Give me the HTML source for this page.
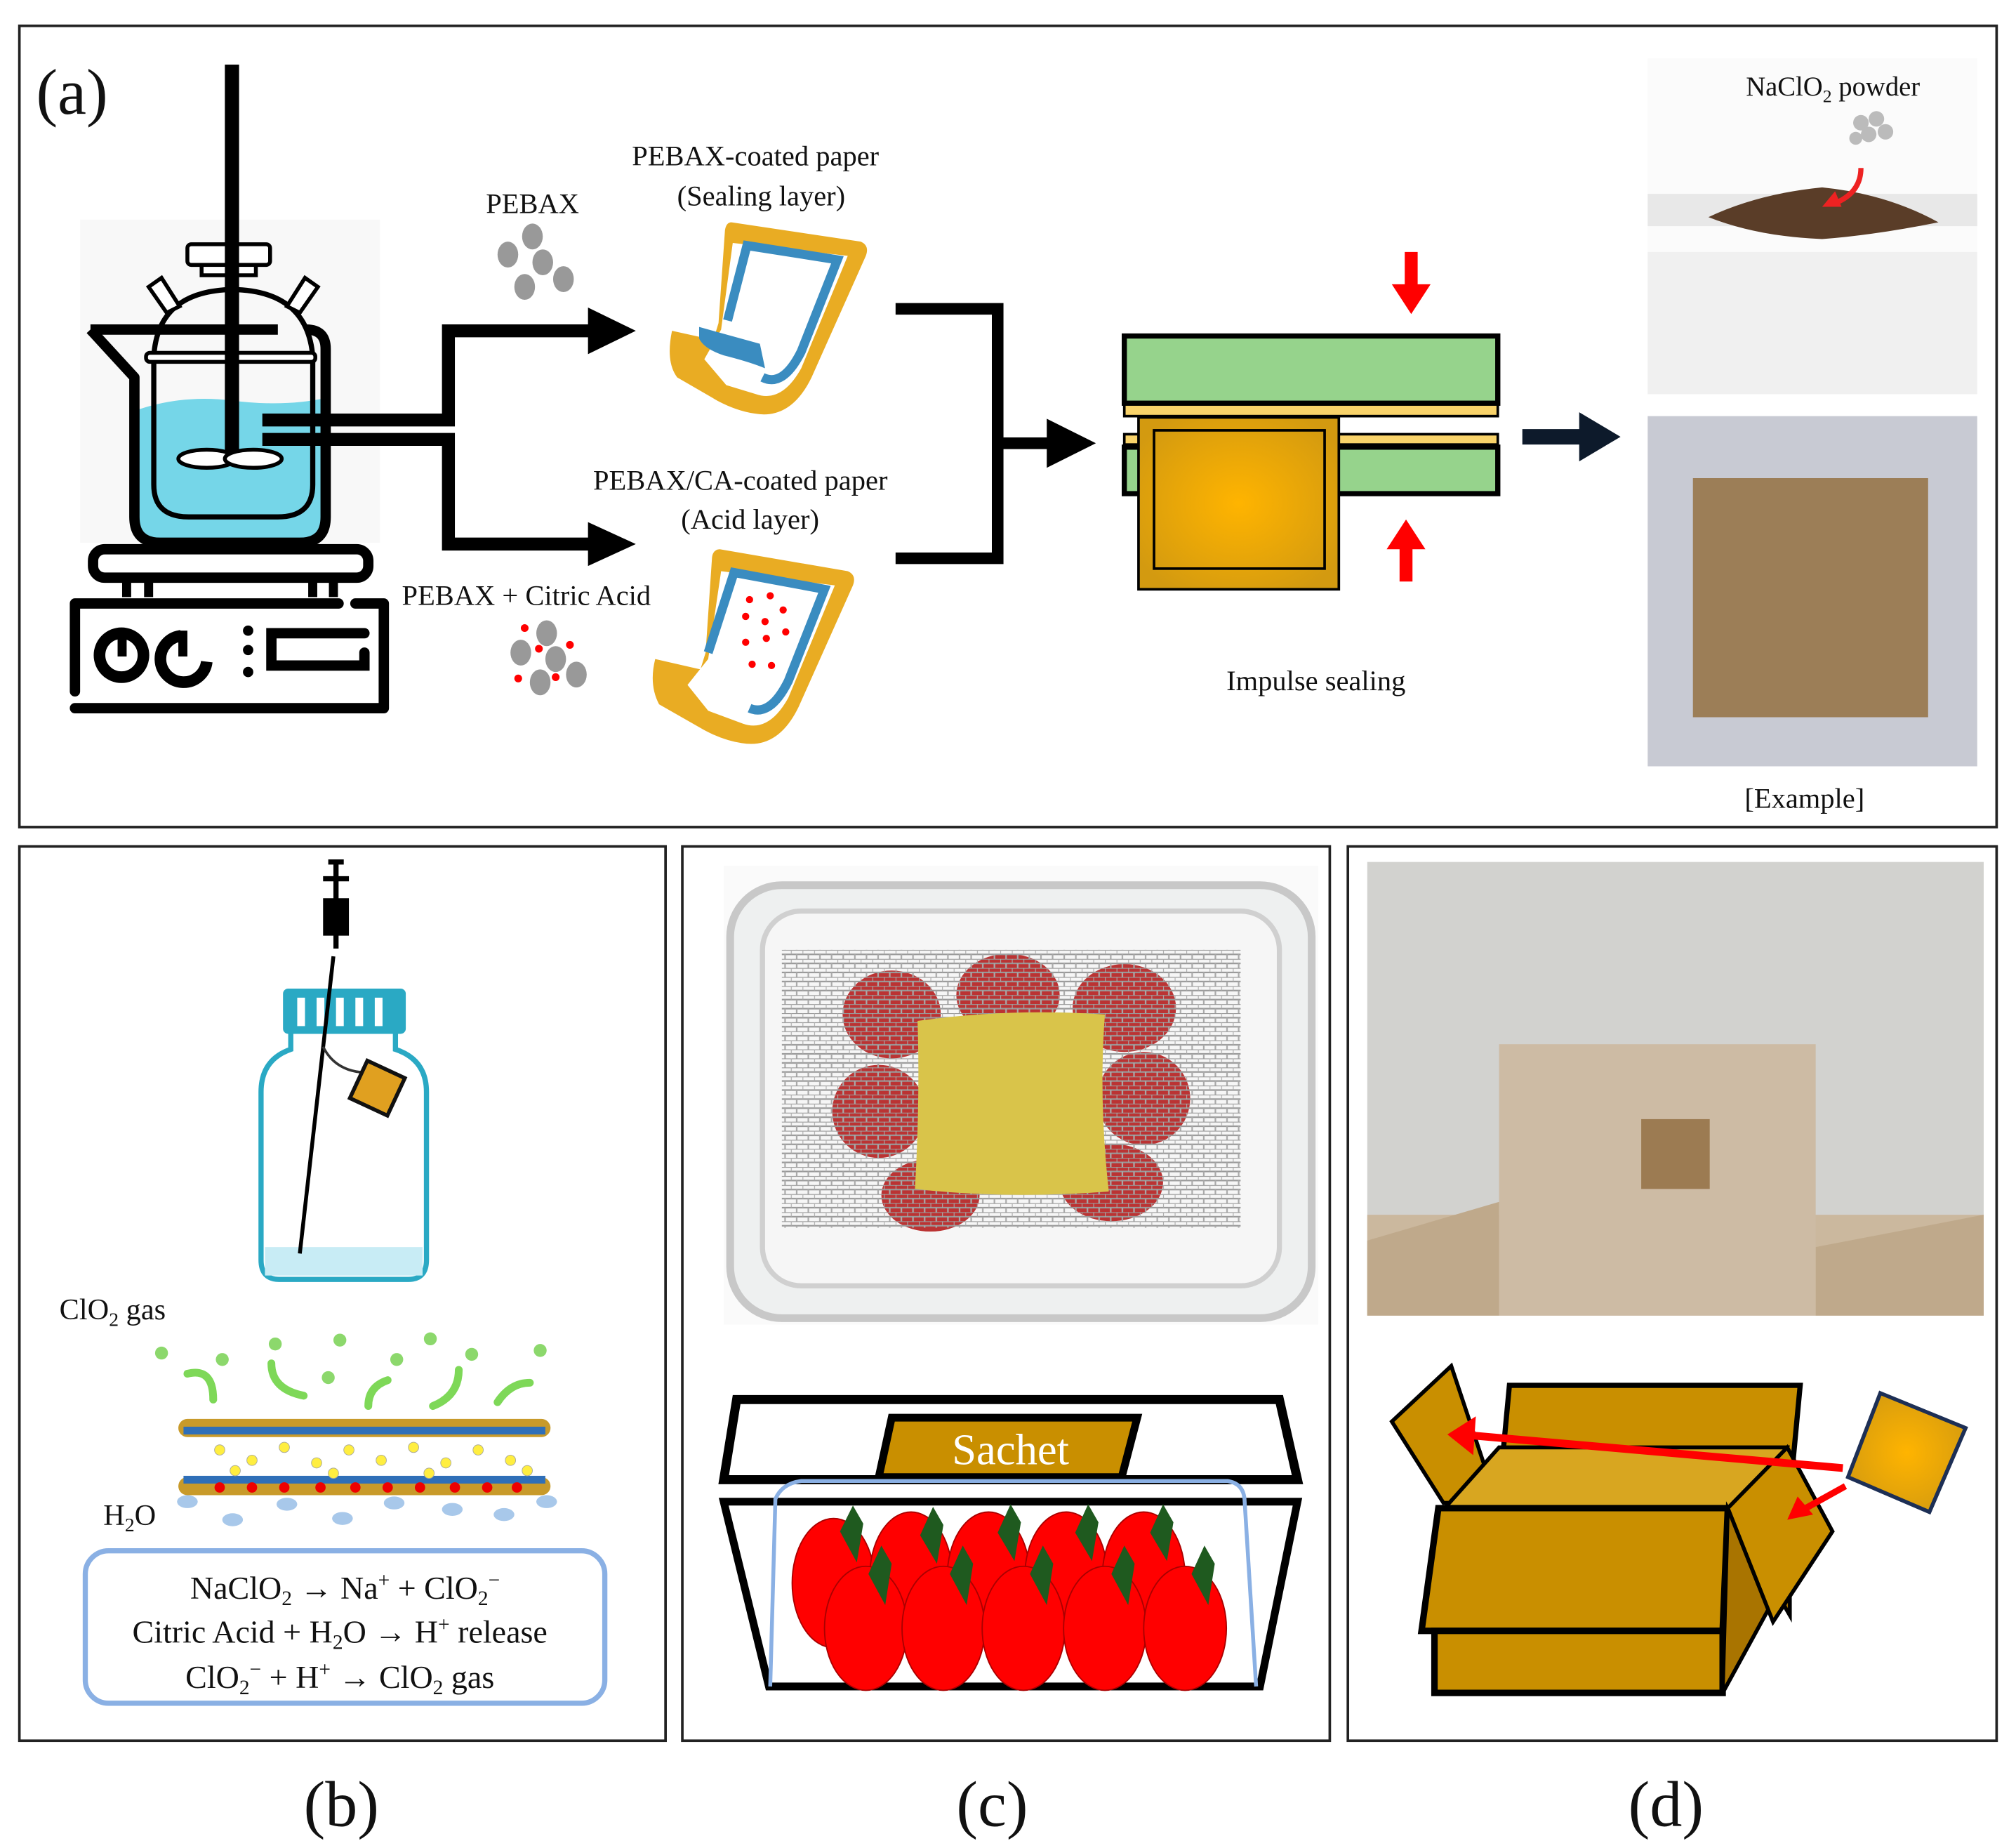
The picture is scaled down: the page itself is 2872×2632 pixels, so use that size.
<!DOCTYPE html>
<html><head><meta charset="utf-8"><style>
html,body{margin:0;padding:0;background:#fff}
svg{display:block}
text{font-family:"Liberation Serif",serif;fill:#111}
</style></head><body>
<svg width="2872" height="2632" viewBox="0 0 1560 1430" preserveAspectRatio="none" xmlns="http://www.w3.org/2000/svg">
<defs>
<radialGradient id="sg" cx="50%" cy="50%" r="60%"><stop offset="0" stop-color="#ffb400"/><stop offset="1" stop-color="#d39a10"/></radialGradient>
<pattern id="mesh" width="9" height="7" patternUnits="userSpaceOnUse"><rect width="9" height="7" fill="none"/><path d="M0 0H9M0 3.5H9" stroke="#999" stroke-width="1.2"/><path d="M0 0V3.5M4.5 3.5V7" stroke="#aaa" stroke-width="1.2"/></pattern>
</defs>
<rect width="1560" height="1430" fill="#fff"/>
<rect x="15" y="20" width="1530" height="620" fill="none" stroke="#222" stroke-width="2"/>
<rect x="15" y="655" width="500" height="692" fill="none" stroke="#222" stroke-width="2"/>
<rect x="528" y="655" width="501" height="692" fill="none" stroke="#222" stroke-width="2"/>
<rect x="1043" y="655" width="502" height="692" fill="none" stroke="#222" stroke-width="2"/>
<text x="28" y="88" font-size="50">(a)</text>
<text x="235" y="1413" font-size="50">(b)</text>
<text x="740" y="1413" font-size="50">(c)</text>
<text x="1260" y="1413" font-size="50">(d)</text>

<!-- beaker / stirrer -->
<rect x="62" y="170" width="232" height="250" fill="#f5f5f5" opacity="0.7"/>
<path d="M104 318 Q140 305 180 310 Q220 315 252 308 L252 400 Q252 420 232 420 L124 420 Q104 420 104 400Z" fill="#75d6e8"/>
<path d="M70 255 L215 255 M237 255 Q252 255 252 270 L252 400 Q252 420 232 420 L124 420 Q104 420 104 400 L104 292 L70 255" fill="none" stroke="#000" stroke-width="8" stroke-linejoin="round"/>
<path d="M119 276 Q122 225 180 224 Q238 225 242 276 L242 375 Q242 400 215 400 L146 400 Q119 400 119 375Z" fill="none" stroke="#000" stroke-width="4"/>
<rect x="113" y="273" width="131" height="7" rx="3" fill="#fff" stroke="#000" stroke-width="3"/>
<rect x="145" y="189" width="64" height="16" rx="3" fill="#fff" stroke="#000" stroke-width="3"/>
<rect x="156" y="205" width="42" height="8" fill="#fff" stroke="#000" stroke-width="3"/>
<path d="M115 222l10-7 14 22-10 5z M246 222l-10-7-14 22 10 5z" fill="#fff" stroke="#000" stroke-width="3"/>
<rect x="174" y="50" width="11" height="303" fill="#000"/>
<ellipse cx="160" cy="355" rx="22" ry="7" fill="#fff" stroke="#000" stroke-width="3"/>
<ellipse cx="196" cy="355" rx="22" ry="7" fill="#fff" stroke="#000" stroke-width="3"/>
<rect x="72" y="425" width="213" height="22" rx="9" fill="#fff" stroke="#000" stroke-width="8"/>
<path d="M98 450v12 M115 450v12 M242 450v12 M258 450v12" stroke="#000" stroke-width="7"/>
<path d="M58 535 L58 467 L262 467 M275 467 L297 467 L297 548 L58 548" fill="none" stroke="#000" stroke-width="8" stroke-linecap="round" stroke-linejoin="round"/>
<circle cx="94" cy="507" r="17" fill="none" stroke="#000" stroke-width="9"/><rect x="91" y="488" width="7" height="20" fill="#000"/>
<path d="M140 492 A18 18 0 1 0 160 512" fill="none" stroke="#000" stroke-width="9"/><rect x="138" y="488" width="7" height="20" fill="#000"/>
<circle cx="192" cy="488" r="4" fill="#000"/><circle cx="192" cy="503" r="4" fill="#000"/><circle cx="192" cy="520" r="4" fill="#000"/>
<path d="M282 490 L210 490 L210 515 L282 515 L282 505" fill="none" stroke="#000" stroke-width="8" stroke-linecap="round"/>
<!-- connector arrows -->
<path d="M203 325 H347 V256 H460 M203 340 H347 V421 H460" fill="none" stroke="#000" stroke-width="10"/>
<path d="M455 238 L492 256 L455 274Z M455 404 L492 421 L455 438Z" fill="#000"/>
<text x="376" y="165" font-size="22">PEBAX</text>
<g fill="#999"><ellipse cx="412" cy="183" rx="8" ry="10"/><ellipse cx="393" cy="197" rx="8" ry="10"/><ellipse cx="420" cy="203" rx="8" ry="10"/><ellipse cx="406" cy="222" rx="8" ry="10"/><ellipse cx="436" cy="216" rx="8" ry="10"/></g>
<text x="311" y="468" font-size="22">PEBAX + Citric Acid</text>
<g fill="#999"><ellipse cx="423" cy="490" rx="8" ry="10"/><ellipse cx="403" cy="505" rx="8" ry="10"/><ellipse cx="430" cy="510" rx="8" ry="10"/><ellipse cx="418" cy="528" rx="8" ry="10"/><ellipse cx="446" cy="522" rx="8" ry="10"/></g>
<g fill="#f00"><circle cx="406" cy="486" r="3"/><circle cx="417" cy="502" r="3"/><circle cx="441" cy="499" r="3"/><circle cx="401" cy="525" r="3"/><circle cx="430" cy="524" r="3"/></g>
<!-- papers -->
<text x="489" y="128" font-size="22">PEBAX-coated paper</text>
<text x="524" y="159" font-size="22">(Sealing  layer)</text>
<g id="paper">
<path d="M566 172 L666 187 Q673 190 670 198 L628 292 Q612 325 584 320 Q570 318 555 310 L524 292 Q515 280 520 256 L552 263 L556 250 L561 178 Q562 172 566 172Z" fill="#e9ac23"/>
<path d="M567 188 L656 198 L620 285 Q605 312 585 305 L562 298 L545 278 L558 255Z" fill="#fff"/>
<path d="M563 248 L578 190 L648 201 L620 272 Q606 300 590 292" fill="none" stroke="#3a8cc0" stroke-width="7"/>
<path d="M541 253 L588 266 L592 285 Q580 280 560 275 Q545 270 541 262Z" fill="#3a8cc0"/>
</g>
<text x="459" y="379" font-size="22">PEBAX/CA-coated paper</text>
<text x="527" y="409" font-size="22">(Acid layer)</text>
<path d="M557 425 L656 442 Q663 445 660 453 L618 547 Q602 580 574 575 Q560 573 545 565 L510 545 Q502 530 507 510 L542 518 L546 505 L551 431 Q552 425 557 425Z" fill="#e9ac23"/>
<path d="M558 442 L646 453 L610 540 Q595 567 575 560 L548 550 L532 530 L548 510Z" fill="#fff"/>
<path d="M548 505 L568 443 L638 456 L610 527 Q596 555 580 548" fill="none" stroke="#3a8cc0" stroke-width="7"/>
<g fill="#f00"><circle cx="580" cy="464" r="2.8"/><circle cx="596" cy="461" r="2.8"/><circle cx="606" cy="472" r="2.8"/><circle cx="577" cy="477" r="2.8"/><circle cx="592" cy="481" r="2.8"/><circle cx="608" cy="489" r="2.8"/><circle cx="577" cy="497" r="2.8"/><circle cx="593" cy="494" r="2.8"/><circle cx="582" cy="514" r="2.8"/><circle cx="597" cy="515" r="2.8"/></g>
<!-- bracket -->
<path d="M693 239 H772 V432 H693 M772 343 H815" fill="none" stroke="#000" stroke-width="9"/>
<path d="M810 324 L848 343 L810 362Z" fill="#000"/>
<!-- sealer -->
<rect x="870" y="260" width="289" height="52" fill="#96d38c" stroke="#000" stroke-width="4"/>
<rect x="870" y="313" width="289" height="9" fill="#f9d36a" stroke="#000" stroke-width="2"/>
<rect x="870" y="336" width="289" height="8" fill="#f9d36a" stroke="#000" stroke-width="2"/>
<rect x="870" y="346" width="289" height="36" fill="#96d38c" stroke="#000" stroke-width="4"/>
<rect x="881" y="323" width="155" height="133" fill="url(#sg)" stroke="#000" stroke-width="2"/>
<rect x="893" y="333" width="132" height="107" fill="none" stroke="#000" stroke-width="2"/>
<path d="M1087 195 v25 h-10 l15 23 l15 -23 h-10 v-25z" fill="#f00"/>
<path d="M1083 450 v-25 h-10 l15 -23 l15 23 h-10 v25z" fill="#f00"/>
<text x="949" y="534" font-size="22">Impulse sealing</text>
<path d="M1178 332 H1222 V319 L1254 338 L1222 357 V344 H1178Z" fill="#0d1a2b"/>
<!-- photos a -->
<rect x="1275" y="45" width="255" height="260" fill="#fbfbfb"/>
<rect x="1275" y="150" width="255" height="25" fill="#e8e8e8"/>
<rect x="1275" y="195" width="255" height="110" fill="#f0f0f0"/>
<path d="M1322 168 Q1360 150 1410 145 Q1460 150 1500 172 Q1450 182 1410 185 Q1360 183 1322 168Z" fill="#5a3d28"/>
<text x="1351" y="74" font-size="21">NaClO<tspan font-size="14" dy="5">2</tspan><tspan dy="-5"> powder</tspan></text>
<g fill="#bbb"><circle cx="1440" cy="95" r="6"/><circle cx="1452" cy="92" r="6"/><circle cx="1446" cy="104" r="6"/><circle cx="1459" cy="102" r="6"/><circle cx="1436" cy="107" r="5"/></g>
<path d="M1440 130 Q1440 150 1418 158" fill="none" stroke="#e22" stroke-width="4"/><path d="M1410 160 l10 -12 l5 12z" fill="#e22"/>
<rect x="1275" y="322" width="255" height="271" fill="#c8cad3"/>
<rect x="1310" y="370" width="182" height="185" fill="#9c7e57"/>
<text x="1350" y="625" font-size="22">[Example]</text>

<!-- panel b -->
<path d="M254 667 h12 M260 667 v30 M250 680 h20 M252 697 h16 v25 h-16z M260 722 v12" stroke="#000" stroke-width="4" fill="#000"/>
<rect x="219" y="765" width="95" height="35" rx="4" fill="#2aa9c4"/>
<g fill="#fff"><rect x="230" y="772" width="6" height="22"/><rect x="245" y="772" width="6" height="22"/><rect x="260" y="772" width="6" height="22"/><rect x="275" y="772" width="6" height="22"/><rect x="290" y="772" width="6" height="22"/></g>
<path d="M225 800 L225 812 Q202 820 202 845 L202 975 Q202 990 216 990 L316 990 Q330 990 330 975 L330 845 Q330 820 306 812 L306 800" fill="none" stroke="#2aa9c4" stroke-width="4"/>
<rect x="205" y="965" width="122" height="22" fill="#c8ecf5"/>
<path d="M258 740 L232 970" stroke="#000" stroke-width="3"/>
<path d="M250 810 Q260 830 285 830" fill="none" stroke="#333" stroke-width="2"/>
<rect x="276" y="826" width="32" height="32" fill="#e0a020" stroke="#111" stroke-width="3" transform="rotate(25 292 842)"/>
<text x="46" y="1021" font-size="23">ClO<tspan font-size="15" dy="5">2</tspan><tspan dy="-5"> gas</tspan></text>
<g fill="#8cd86c"><circle cx="125" cy="1047" r="5"/><circle cx="172" cy="1052" r="5"/><circle cx="213" cy="1040" r="5"/><circle cx="263" cy="1037" r="5"/><circle cx="333" cy="1036" r="5"/><circle cx="418" cy="1045" r="5"/><circle cx="254" cy="1066" r="5"/><circle cx="307" cy="1052" r="5"/><circle cx="365" cy="1048" r="5"/></g>
<g fill="none" stroke="#7ed858" stroke-width="6" stroke-linecap="round"><path d="M145 1063 q20 -5 20 20"/><path d="M210 1055 q0 20 25 25"/><path d="M300 1068 q-15 5 -15 20"/><path d="M355 1060 q0 20 -20 28"/><path d="M410 1070 q-15 0 -25 15"/></g>
<rect x="138" y="1098" width="288" height="14" rx="7" fill="#c89a2a"/>
<rect x="142" y="1104" width="280" height="6" fill="#2f6fb8"/>
<rect x="138" y="1143" width="288" height="14" rx="7" fill="#c89a2a"/>
<rect x="142" y="1142" width="280" height="6" fill="#2f6fb8"/>
<g fill="#ffee40" stroke="#aa9" stroke-width="0.5"><circle cx="170" cy="1122" r="4"/><circle cx="195" cy="1130" r="4"/><circle cx="220" cy="1120" r="4"/><circle cx="245" cy="1132" r="4"/><circle cx="270" cy="1122" r="4"/><circle cx="295" cy="1130" r="4"/><circle cx="320" cy="1120" r="4"/><circle cx="345" cy="1132" r="4"/><circle cx="370" cy="1122" r="4"/><circle cx="395" cy="1130" r="4"/><circle cx="182" cy="1138" r="4"/><circle cx="258" cy="1140" r="4"/><circle cx="332" cy="1140" r="4"/><circle cx="408" cy="1138" r="4"/></g>
<g fill="#e00"><circle cx="170" cy="1151" r="4"/><circle cx="195" cy="1151" r="4"/><circle cx="220" cy="1151" r="4"/><circle cx="248" cy="1151" r="4"/><circle cx="275" cy="1151" r="4"/><circle cx="300" cy="1151" r="4"/><circle cx="325" cy="1151" r="4"/><circle cx="352" cy="1151" r="4"/><circle cx="377" cy="1151" r="4"/><circle cx="400" cy="1151" r="4"/></g>
<g fill="#a8c8ea"><ellipse cx="145" cy="1162" rx="8" ry="5"/><ellipse cx="180" cy="1176" rx="8" ry="5"/><ellipse cx="222" cy="1164" rx="8" ry="5"/><ellipse cx="265" cy="1175" rx="8" ry="5"/><ellipse cx="305" cy="1163" rx="8" ry="5"/><ellipse cx="350" cy="1168" rx="8" ry="5"/><ellipse cx="390" cy="1172" rx="8" ry="5"/><ellipse cx="423" cy="1162" rx="8" ry="5"/></g>
<text x="80" y="1180" font-size="23">H<tspan font-size="15" dy="5">2</tspan><tspan dy="-5">O</tspan></text>
<rect x="66" y="1200" width="402" height="118" rx="18" fill="#fff" stroke="#8ab0e4" stroke-width="4"/>
<text x="267" y="1237" font-size="25" text-anchor="middle">NaClO<tspan font-size="16" dy="5">2</tspan><tspan dy="-5"> → Na</tspan><tspan font-size="16" dy="-9">+</tspan><tspan dy="9"> + ClO</tspan><tspan font-size="16" dy="5">2</tspan><tspan font-size="16" dy="-14">−</tspan></text>
<text x="263" y="1271" font-size="25" text-anchor="middle">Citric Acid + H<tspan font-size="16" dy="5">2</tspan><tspan dy="-5">O → H</tspan><tspan font-size="16" dy="-9">+</tspan><tspan dy="9"> release</tspan></text>
<text x="263" y="1306" font-size="25" text-anchor="middle">ClO<tspan font-size="16" dy="5">2</tspan><tspan font-size="16" dy="-14">−</tspan><tspan dy="9"> + H</tspan><tspan font-size="16" dy="-9">+</tspan><tspan dy="9"> → ClO</tspan><tspan font-size="16" dy="5">2</tspan><tspan dy="-5"> gas</tspan></text>

<!-- panel c photo -->
<rect x="560" y="670" width="460" height="355" fill="#fafafa"/>
<rect x="565" y="685" width="450" height="335" rx="40" fill="#eef0f0" stroke="#c8c8c8" stroke-width="6"/>
<rect x="590" y="705" width="400" height="290" rx="30" fill="#f6f6f6" stroke="#d0d0d0" stroke-width="4"/>
<g fill="#b33" ><ellipse cx="690" cy="785" rx="38" ry="34"/><ellipse cx="780" cy="770" rx="40" ry="32"/><ellipse cx="870" cy="780" rx="40" ry="34"/><ellipse cx="680" cy="860" rx="36" ry="36"/><ellipse cx="885" cy="850" rx="36" ry="36"/><ellipse cx="720" cy="925" rx="38" ry="28"/><ellipse cx="860" cy="915" rx="40" ry="30"/></g>
<rect x="605" y="735" width="355" height="215" fill="url(#mesh)"/>
<path d="M710 790 Q780 780 855 785 Q850 850 858 922 Q780 928 708 920 Q712 850 710 790Z" fill="#d9c44a"/>
<!-- panel c drawing -->
<path d="M570 1083 L990 1083 L1004 1145 L560 1145Z" fill="#fff" stroke="#000" stroke-width="7"/>
<path d="M690 1097 L880 1097 L868 1143 L680 1143Z" fill="#c98f00" stroke="#000" stroke-width="6"/>
<text x="782" y="1133" font-size="34" text-anchor="middle" style="fill:#fff">Sachet</text>
<path d="M560 1162 L1004 1162 L975 1305 L595 1305Z" fill="#fff" stroke="#000" stroke-width="6"/>
<path d="M596 1305 L600 1160 Q605 1148 620 1146 L950 1146 Q962 1148 963 1160 L972 1305" fill="none" stroke="#8ab0e4" stroke-width="3"/>
<g fill="#f00" stroke="#a00" stroke-width="1"><ellipse cx="645" cy="1225" rx="32" ry="50"/><ellipse cx="705" cy="1220" rx="32" ry="50"/><ellipse cx="765" cy="1220" rx="32" ry="50"/><ellipse cx="825" cy="1220" rx="32" ry="50"/><ellipse cx="885" cy="1220" rx="32" ry="50"/>
<ellipse cx="670" cy="1260" rx="32" ry="48"/><ellipse cx="730" cy="1260" rx="32" ry="48"/><ellipse cx="792" cy="1260" rx="32" ry="48"/><ellipse cx="855" cy="1260" rx="32" ry="48"/><ellipse cx="917" cy="1260" rx="32" ry="48"/></g>
<g fill="#1f5a1f"><path d="M650 1185 l10 -20 l8 14 l-5 30z"/><path d="M712 1188 l10 -22 l8 14 l-5 30z"/><path d="M772 1186 l10 -22 l8 14 l-5 30z"/><path d="M832 1186 l10 -22 l8 14 l-5 30z"/><path d="M890 1186 l10 -22 l8 14 l-5 30z"/>
<path d="M672 1218 l10 -22 l8 14 l-5 32z"/><path d="M735 1218 l10 -22 l8 14 l-5 32z"/><path d="M797 1218 l10 -22 l8 14 l-5 32z"/><path d="M860 1218 l10 -22 l8 14 l-5 32z"/><path d="M922 1218 l10 -22 l8 14 l-5 32z"/></g>

<!-- panel d photo -->
<rect x="1058" y="667" width="477" height="351" fill="#d2d2cf"/>
<rect x="1058" y="940" width="477" height="78" fill="#cbb89e"/>
<path d="M1058 960 L1160 930 L1160 1018 L1058 1018Z" fill="#bfa98b"/>
<path d="M1535 940 L1405 965 L1405 1018 L1535 1018Z" fill="#bfa98b"/>
<rect x="1160" y="808" width="245" height="210" fill="#cdbba4"/>
<rect x="1270" y="866" width="53" height="54" fill="#9c7b52"/>
<!-- panel d drawing -->
<path d="M1168 1072 L1393 1072 L1385 1157 L1160 1157Z" fill="#c98f00" stroke="#000" stroke-width="4"/>
<path d="M1077 1100 L1123 1057 L1158 1162 L1117 1163Z" fill="#c98f00" stroke="#000" stroke-width="3"/>
<path d="M1160 1120 L1383 1120 L1367 1168 L1117 1168Z" fill="#d8a620" stroke="#000" stroke-width="3"/>
<path d="M1113 1167 L1337 1167 L1333 1262 L1100 1262Z" fill="#c98f00" stroke="#000" stroke-width="5"/>
<path d="M1110 1262 L1333 1262 L1333 1310 L1110 1310Z" fill="#c98f00" stroke="#000" stroke-width="5"/>
<path d="M1337 1167 L1385 1250 L1385 1215 L1333 1310Z" fill="#a97400" stroke="#000" stroke-width="3"/>
<path d="M1383 1120 L1418 1185 L1372 1255 L1337 1167Z" fill="#c98f00" stroke="#000" stroke-width="3"/>
<path d="M1455 1078 L1521 1105 L1493 1170 L1430 1143Z" fill="url(#sg)" stroke="#1d2f55" stroke-width="3"/>
<path d="M1426 1136 L1130 1110" stroke="#f00" stroke-width="6"/><path d="M1120 1110 l22 -14 l-2 30z" fill="#f00"/>
<path d="M1428 1150 L1392 1170" stroke="#f00" stroke-width="5"/><path d="M1383 1176 l8 -18 l12 14z" fill="#f00"/>
</svg>
</body></html>
